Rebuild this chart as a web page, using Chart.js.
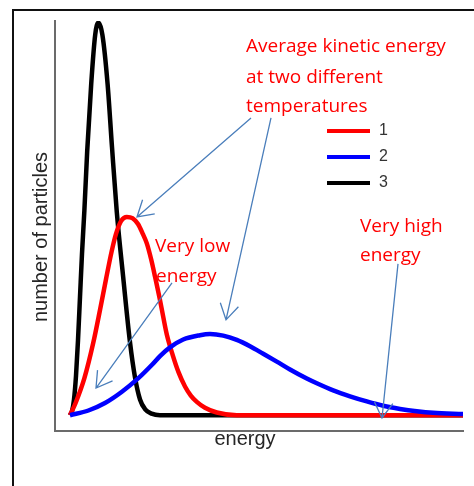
<!DOCTYPE html>
<html>
<head>
<meta charset="utf-8">
<script src="https://cdn.jsdelivr.net/npm/chart.js@4.4.1/dist/chart.umd.min.js"></script>
<style>
  html, body { margin: 0; padding: 0; background: #fff; }
  #wrap { position: relative; width: 474px; height: 486px; overflow: hidden; }
  #frame { position: absolute; left: 12px; top: 9px; width: 470px; height: 480px;
           border-top: 2px solid #111; border-left: 2px solid #111; }
  canvas { position: absolute; left: 0; top: 0; }
</style>
</head>
<body>
<div id="wrap">
  <div id="frame"></div>
  <canvas id="chart" width="474" height="486"></canvas>
</div>
<script>
// energy (x) and number of particles (y)
const legendLabels = ['1', '2', '3'];

const redEnergy = [0, 1.4, 3.6, 5.8, 7.5, 9, 10.4, 11.5, 12.8, 14.2, 15.6, 17, 18.2, 19.2, 20.3, 21.25, 22.5, 23.3, 24.2, 25.7, 27.1, 28.75, 30.2, 31.7, 33.75, 36.7, 41.7, 98.25];
const redCount  = [0, 3.1, 9.4, 18.3, 26.7, 34.5, 41.5, 46, 49.3, 50.3, 50.0, 48.5, 46, 43.6, 39.5, 35.2, 29.2, 25, 20.5, 15.2, 11, 7.3, 5, 3.4, 1.9, 0.7, 0, 0];

const blueEnergy = [0, 4.6, 8.75, 12.9, 17.1, 20.5, 22.5, 25, 28.3, 32.5, 35, 38.3, 41.7, 45, 48.3, 51.7, 55, 59.2, 61.7, 65.8, 70, 74.2, 78.3, 82.5, 86.7, 90.8, 98.25];
const blueCount  = [0, 1.2, 3.1, 5.9, 9.4, 12.8, 15.0, 17.2, 19.2, 20.3, 20.6, 20.2, 19.1, 17.5, 15.6, 13.6, 11.6, 9.3, 8.1, 6.3, 4.8, 3.5, 2.4, 1.6, 1.0, 0.6, 0.3];

const blackEnergy = [0, 0.5, 1.0, 1.5, 2.0, 2.5, 3.0, 3.6, 4.3, 5.3, 6.3, 7.1, 8.1, 9.4, 10.5, 11.7, 13.3, 15, 16.25, 17.5, 18.8, 20.4, 22.5, 98.25];
const blackCount  = [0, 1, 4, 10, 19, 30, 41, 52, 67, 84, 96.5, 99.6, 96.5, 84, 68, 51.5, 35, 18.5, 9.6, 4, 1.5, 0.4, 0, 0];

// red notes: text, left energy, baseline count
const noteText   = ['Average kinetic energy', 'at two different', 'temperatures', 'Very low', 'energy', 'Very high', 'energy'];
const noteEnergy = [44, 44, 44, 21.25, 21.5, 72.5, 72.5];
const noteCount  = [92.1, 84.3, 77.0, 41.5, 33.9, 46.6, 39.1];

// blue arrows: tail -> tip
const arrowTailE = [45.25, 50.25, 25.5, 82];
const arrowTailN = [75.4, 75.4, 33.55, 38.4];
const arrowTipE  = [16.75, 39, 6.5, 78];
const arrowTipN  = [50.3, 24.2, 6.9, -0.7];

// legend placement in chart units
const legendLineE = [64.25, 75];
const legendRowN  = [72.1, 65.5, 58.9];

const toPoints = (xs, ys) => xs.map((x, i) => ({ x: x, y: ys[i] }));

const extras = {
    id: 'extras',
    afterDatasetsDraw(chart) {
        const ctx = chart.ctx;
        const xs = chart.scales.x, ys = chart.scales.y;
        const area = chart.chartArea;
        ctx.save();

        // axis titles
        ctx.fillStyle = '#262626';
        ctx.font = '20px "Liberation Sans", Arial, sans-serif';
        ctx.textAlign = 'center';
        ctx.textBaseline = 'alphabetic';
        ctx.fillText('energy', area.left + 190, area.bottom + 14);
        ctx.save();
        ctx.translate(area.left - 8, area.top + 216);
        ctx.rotate(-Math.PI / 2);
        ctx.fillText('number of particles', 0, 0);
        ctx.restore();

        // legend
        const sets = chart.data.datasets;
        ctx.font = '16px "Liberation Sans", Arial, sans-serif';
        ctx.textAlign = 'left';
        ctx.textBaseline = 'middle';
        legendRowN.forEach((n, i) => {
            const y = ys.getPixelForValue(n);
            ctx.strokeStyle = sets[i].borderColor;
            ctx.lineWidth = 4;
            ctx.beginPath();
            ctx.moveTo(xs.getPixelForValue(legendLineE[0]), y);
            ctx.lineTo(xs.getPixelForValue(legendLineE[1]), y);
            ctx.stroke();
            ctx.fillStyle = '#333';
            ctx.fillText(sets[i].label, xs.getPixelForValue(legendLineE[1]) + 9, y);
        });

        // red notes
        ctx.fillStyle = '#ff0000';
        ctx.font = '19px "Open Sans", sans-serif';
        ctx.textAlign = 'left';
        ctx.textBaseline = 'alphabetic';
        noteText.forEach((t, i) => {
            ctx.fillText(t, xs.getPixelForValue(noteEnergy[i]), ys.getPixelForValue(noteCount[i]));
        });

        // arrows
        ctx.strokeStyle = '#4a7ebb';
        ctx.lineWidth = 1.3;
        arrowTipE.forEach((e, i) => {
            const x0 = xs.getPixelForValue(arrowTailE[i]), y0 = ys.getPixelForValue(arrowTailN[i]);
            const x1 = xs.getPixelForValue(e), y1 = ys.getPixelForValue(arrowTipN[i]);
            const a = Math.atan2(y0 - y1, x0 - x1);
            const spread = 31 * Math.PI / 180, len = 18;
            ctx.beginPath();
            ctx.moveTo(x0, y0);
            ctx.lineTo(x1, y1);
            ctx.moveTo(x1 + len * Math.cos(a - spread), y1 + len * Math.sin(a - spread));
            ctx.lineTo(x1, y1);
            ctx.lineTo(x1 + len * Math.cos(a + spread), y1 + len * Math.sin(a + spread));
            ctx.stroke();
        });
        ctx.restore();
    }
};

const line = (label, color, pts, order) => ({
    label: label,
    data: pts,
    borderColor: color,
    backgroundColor: color,
    borderWidth: 4.5,
    pointRadius: 0,
    cubicInterpolationMode: 'monotone',
    fill: false,
    order: order
});

new Chart(document.getElementById('chart').getContext('2d'), {
    type: 'line',
    data: {
        datasets: [
            line(legendLabels[0], '#ff0000', toPoints(redEnergy, redCount), 2),
            line(legendLabels[1], '#0000ff', toPoints(blueEnergy, blueCount), 1),
            line(legendLabels[2], '#000000', toPoints(blackEnergy, blackCount), 3)
        ]
    },
    options: {
        responsive: false,
        animation: false,
        devicePixelRatio: 1,
        layout: { padding: { left: 55, top: 21, right: 11, bottom: 55 } },
        plugins: { legend: { display: false }, tooltip: { enabled: false } },
        scales: {
            x: {
                type: 'linear',
                min: -3.75,
                max: 98.25,
                ticks: { display: false },
                grid: { display: false, drawTicks: false },
                border: { color: '#6b6b6b', width: 2 },
                afterFit: (s) => { s.height = 0; }
            },
            y: {
                min: -4,
                max: 100,
                ticks: { display: false },
                grid: { display: false, drawTicks: false },
                border: { color: '#6b6b6b', width: 2 },
                afterFit: (s) => { s.width = 0; }
            }
        }
    },
    plugins: [extras]
});
</script>
</body>
</html>
